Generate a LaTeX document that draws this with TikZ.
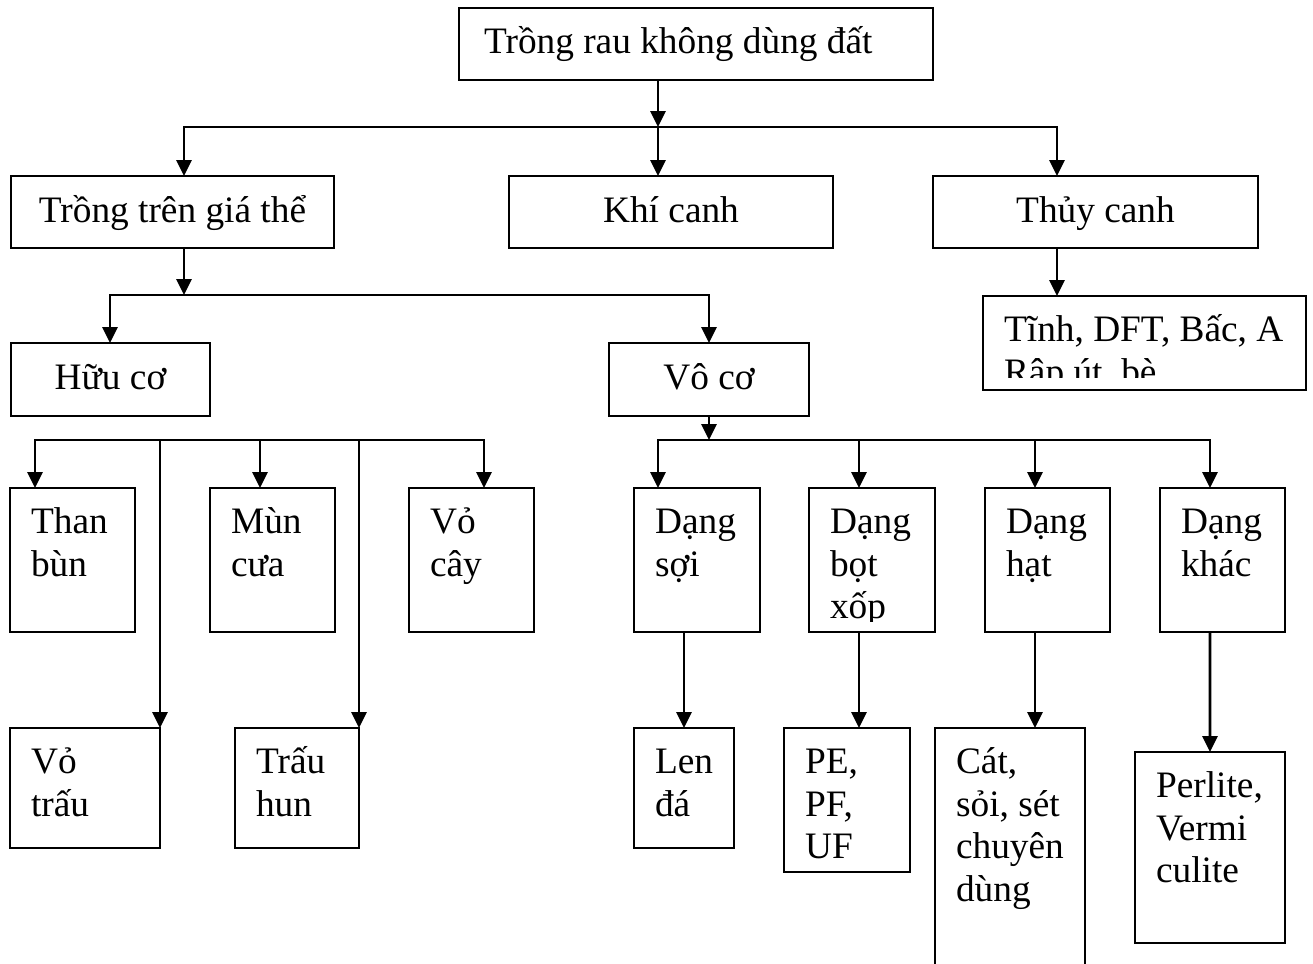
\documentclass[tikz,border=0pt]{standalone}
\usepackage{fontspec}
\setmainfont{Liberation Serif}
\usetikzlibrary{arrows.meta}
\hyphenpenalty=10000
\exhyphenpenalty=10000
\newcommand{\px}{0.375pt}
\tikzset{
    boxline/.style={draw=black, line width=0.8pt},
    head/.style 2 args={
        rectangle, boxline, anchor=north west,
        minimum width=#1*\px, minimum height=#2*\px,
        inner sep=0pt, outer sep=0pt,
        text height=10pt, text depth=2.5pt,
        font=\fontsize{14pt}{16.1pt}\selectfont
    },
    cell/.style 2 args={
        rectangle, boxline, anchor=north west,
        inner xsep=7.9pt, inner ysep=6.9pt, outer sep=0pt,
        text width=#1*\px-15.8pt, align=flush left,
        text height=10pt, text depth=#2*\px-23.8pt,
        font=\fontsize{14pt}{16.1pt}\selectfont
    },
    link/.style={draw=black, line width=1.1pt, -{Triangle[length=6pt, width=5.6pt]}}
}

\begin{document}
\begin{tikzpicture}[x=\px, y=\px]
\useasboundingbox (0,0) rectangle (1313,-963);

% top levels
\node[cell={474}{72}] (root) at (459,-8) {\hspace*{1.5pt}Trồng rau không dùng đất};
\node[head={323}{72}] (giathe) at (11,-176) {Trồng trên giá thể};
\node[head={324}{72}] (khi) at (509,-176) {Khí canh};
\node[head={325}{72}] (thuy) at (933,-176) {Thủy canh};
\node[head={199}{73}] (huu) at (11,-343) {Hữu cơ};
\node[head={200}{73}] (vo) at (609,-343) {Vô cơ};

\begin{scope}
    \clip (983,-296) rectangle (1306,-377);
    \node[cell={323}{94}] (tinh) at (983,-296) {Tĩnh,~DFT,~Bấc,~A\\Rập út, bè};
\end{scope}
\draw[boxline] (tinh.north west) rectangle (tinh.south east);

% huu co
\node[cell={125}{144}] (than) at (10,-488) {Than\\bùn};
\node[cell={125}{144}] (mun) at (210,-488) {Mùn\\cưa};
\node[cell={125}{144}] (vocay) at (409,-488) {Vỏ\\cây};
\node[cell={150}{120}] (votrau) at (10,-728) {Vỏ\\trấu};
\node[cell={124}{120}] (trauhun) at (235,-728) {Trấu\\hun};

% vo co
\node[cell={126}{144}] (soi) at (634,-488) {Dạng\\sợi};
\begin{scope}
    \clip (809,-488) rectangle (935,-621);
    \node[cell={126}{144}] (bot) at (809,-488) {Dạng\\bọt\\xốp};
\end{scope}
\draw[boxline] (bot.north west) rectangle (bot.south east);
\node[cell={125}{144}] (hat) at (985,-488) {Dạng\\hạt};
\node[cell={125}{144}] (khac) at (1160,-488) {Dạng\\khác};

\node[cell={100}{120}] (len) at (634,-728) {Len\\đá};
\node[cell={126}{144}] (pe) at (784,-728) {PE,\\PF,\\UF};
\node[cell={150}{260}] (cat) at (935,-728) {Cát,\\sỏi,~sét\\chuyên\\dùng};
\node[cell={150}{191}] (perlite) at (1135,-752) {Perlite,\\Vermi\\culite};

% bus points
\coordinate (r0) at (658,-127);
\coordinate (rL) at (184,-127);
\coordinate (rR) at (1057,-127);
\coordinate (g0) at (184,-295);
\coordinate (gL) at (110,-295);
\coordinate (gR) at (709,-295);
\coordinate (h1) at (35,-440);
\coordinate (h2) at (160,-440);
\coordinate (h3) at (260,-440);
\coordinate (h4) at (359,-440);
\coordinate (h5) at (484,-440);
\coordinate (v0) at (709,-440);
\coordinate (v1) at (658,-440);
\coordinate (v2) at (859,-440);
\coordinate (v3) at (1035,-440);
\coordinate (v4) at (1210,-440);

\draw[link] (root.south -| r0) -- (r0);
\draw[link] (r0) -| (giathe.north -| rL);
\draw[link] (r0) -- (khi.north -| r0);
\draw[link] (r0) -| (thuy.north -| rR);

\draw[link] (giathe.south -| g0) -- (g0);
\draw[link] (g0) -| (huu.north -| gL);
\draw[link] (g0) -| (vo.north -| gR);

\draw[link] (thuy.south -| rR) -- (tinh.north -| rR);

\draw[link] (h3) -| (than.north -| h1);
\draw[link] (h3) -| (vocay.north -| h5);
\draw[link] (h3) -- (mun.north -| h3);
\draw[link] (h2) -- (votrau.north -| h2);
\draw[link] (h4) -- (trauhun.north -| h4);

\draw[link] (vo.south -| v0) -- (v0);
\draw[link] (v0) -| (soi.north -| v1);
\draw[link] (v0) -| (khac.north -| v4);
\draw[link] (v2) -- (bot.north -| v2);
\draw[link] (v3) -- (hat.north -| v3);

\draw[link] (soi.south -| len.north) -- (len.north);
\draw[link] (bot.south -| v2) -- (pe.north -| v2);
\draw[link] (hat.south -| v3) -- (cat.north -| v3);
\draw[link] (khac.south -| v4) -- (perlite.north);

\end{tikzpicture}
\end{document}
